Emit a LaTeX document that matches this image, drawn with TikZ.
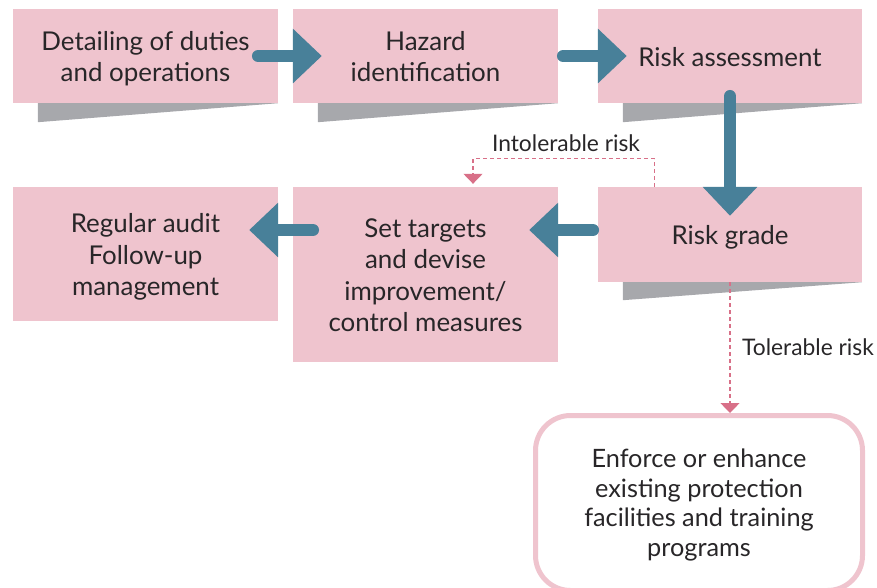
\documentclass[tikz,border=0pt]{standalone}
\usepackage{fontspec}
\setmainfont{Lato}
\usetikzlibrary{arrows.meta,calc}
\definecolor{boxpink}{RGB}{239,196,206}
\definecolor{shadegray}{RGB}{167,168,172}
\definecolor{flowteal}{RGB}{72,128,153}
\definecolor{dashpink}{RGB}{216,112,136}
\definecolor{inkgray}{RGB}{40,38,40}
\begin{document}
\begin{tikzpicture}[x=1pt,y=-1pt,
  box/.style={fill=boxpink,align=center,minimum width=265pt,minimum height=94pt,inner sep=0pt,text=inkgray,font=\fontsize{25.9}{31.5}\selectfont,text height=20pt,text depth=0pt},
  endbox/.style={draw=boxpink,line width=5pt,fill=white,rounded corners=35pt,align=center,minimum width=327pt,minimum height=175pt,inner sep=0pt,text=inkgray,font=\fontsize{25.3}{29.5}\selectfont,text height=106pt,text depth=0pt},
  shade/.style={fill=shadegray},
  flow/.style={-{Triangle[width=53pt,length=29pt]},draw=flowteal,line width=12.5pt,line cap=round},
  dflow/.style={-{Triangle[width=19pt,length=10pt]},draw=dashpink,line width=1.3pt,dash pattern=on 4pt off 3pt},
  lab/.style={text=inkgray,inner sep=0pt,font=\fontsize{22.8}{26}\selectfont}]
\useasboundingbox (0,0) rectangle (877,587);
\node[box,text height=51.5pt] (duties) at (145.5,56) {Detailing of duties\\and operations};
\node[box,text height=51.5pt] (hazard) at (425.5,56) {Hazard\\identification};
\node[box,minimum width=264pt] (assess) at (730,56) {Risk assessment};
\node[box,minimum width=264pt,minimum height=95pt] (grade) at (730,234.5) {Risk grade};
\node[box,minimum height=175pt,text height=114.5pt] (targets) at (425.5,274.5) {Set targets\\and devise\\improvement/\\control measures};
\node[box,minimum height=134pt,text height=83pt] (audit) at (145.5,254) {Regular audit\\Follow-up\\management};
\node[endbox] (enforce) at (699,503) {Enforce or enhance\\existing protection\\facilities and training\\programs};
\fill[shade] ($(duties.south west)+(25,0)$) -- (duties.south east) -- ($(duties.south west)+(25,19)$) -- cycle;
\fill[shade] ($(hazard.south west)+(25,0)$) -- (hazard.south east) -- ($(hazard.south west)+(25,19)$) -- cycle;
\fill[shade] ($(assess.south west)+(25,0)$) -- (assess.south east) -- ($(assess.south west)+(25,19)$) -- cycle;
\fill[shade] ($(grade.south west)+(25,0)$) -- (grade.south east) -- ($(grade.south west)+(25,18)$) -- cycle;
\draw[flow] ([xshift=-20pt]duties.east) -- ([xshift=29pt]hazard.west);
\draw[flow] ([xshift=5pt]hazard.east) -- ([xshift=29pt]assess.west);
\draw[flow] ([yshift=7pt]assess.south) -- ([yshift=-29pt]grade.north);
\coordinate (back) at ($(grade.west)+(-5,-4.5)$);
\draw[flow] (back) -- ($(targets.east |- back)+(-29,0)$);
\draw[flow] ($(targets.west |- back)+(20,0)$) -- ($(audit.east |- back)+(-29,0)$);
\draw[dflow] ($(grade.north west)+(57,0)$) -- ++(0,-28) -| ($(targets.north)+(47.5,-3)$);
\node[lab] (intol) at (566,143) {Intolerable risk};
\draw[dflow] (grade.south) -- (grade.south |- enforce.north);
\node[lab] (tol) at (808,347) {Tolerable risk};
\end{tikzpicture}
\end{document}
